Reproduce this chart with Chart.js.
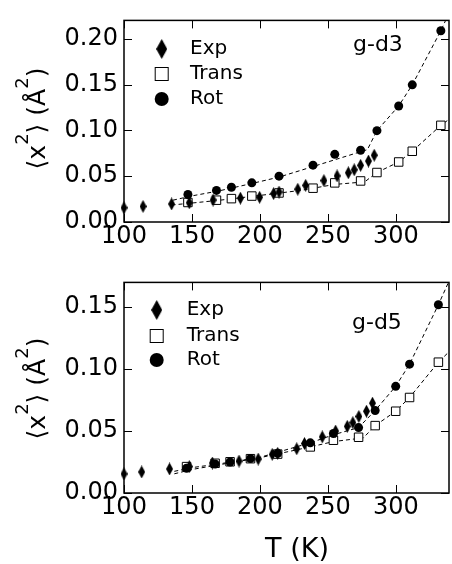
<!DOCTYPE html>
<html>
<head>
<meta charset="utf-8">
<script src="https://cdn.jsdelivr.net/npm/chart.js@4.4.1/dist/chart.umd.min.js"></script>
<style>
  html, body { margin: 0; padding: 0; background: #fff; }
  #wrap { position: relative; width: 452px; height: 564px; overflow: hidden; }
  canvas { position: absolute; left: 0; }
</style>
</head>
<body>
<div id="wrap">
  <canvas id="topChart" width="456" height="262" style="top:0"></canvas>
  <canvas id="botChart" width="456" height="302" style="top:262px"></canvas>
</div>
<script>
// g-d3 panel
const expT3 = [100, 114, 135, 148, 165.5, 185.6, 199.7, 210, 214, 227.8, 233.6, 247, 256.7, 265, 269.3, 274, 279.8, 284];
const expV3 = [0.0155, 0.017, 0.0197, 0.021, 0.024, 0.026, 0.027, 0.031, 0.0327, 0.0358, 0.040, 0.0452, 0.0503, 0.0537, 0.057, 0.0618, 0.0665, 0.0729];
const simT3 = [147, 168, 179, 194, 214, 239, 255, 274, 286, 302, 312, 333];
const transV3 = [0.0213, 0.0238, 0.0255, 0.0283, 0.0317, 0.0369, 0.0427, 0.0448, 0.054, 0.0655, 0.0772, 0.1055];
const rotV3 = [0.030, 0.0345, 0.0379, 0.0427, 0.050, 0.062, 0.0738, 0.0783, 0.0997, 0.1266, 0.1497, 0.2087];
const transFitT3 = [135, 150, 170, 200, 230, 255, 277, 286, 302, 312, 333, 339];
const transFitV3 = [0.0185, 0.0207, 0.0237, 0.029, 0.0345, 0.041, 0.0438, 0.054, 0.0655, 0.0772, 0.1055, 0.112];
const rotFitT3 = [136, 150, 170, 194, 214, 239, 279, 286, 302, 312, 333, 339];
const rotFitV3 = [0.0238, 0.0285, 0.034, 0.042, 0.049, 0.0605, 0.079, 0.0997, 0.1266, 0.1497, 0.2087, 0.228];

// g-d5 panel
const expT5 = [100, 113, 133.5, 148, 165, 184.6, 198.7, 209, 213, 227, 232.7, 245.8, 255.6, 264.2, 268.3, 272.7, 278.3, 282.7];
const expV5 = [0.0154, 0.017, 0.0194, 0.0213, 0.0242, 0.0258, 0.0274, 0.0312, 0.032, 0.0357, 0.040, 0.0453, 0.050, 0.0538, 0.0568, 0.0618, 0.066, 0.0725];
const simT5 = [146, 167, 178, 193, 213, 237, 254, 272.5, 284.7, 299.8, 310, 331.2];
const transV5 = [0.0213, 0.024, 0.0252, 0.0277, 0.0314, 0.0372, 0.0426, 0.045, 0.0544, 0.066, 0.0771, 0.1056];
const rotV5 = [0.020, 0.0234, 0.025, 0.0278, 0.032, 0.0405, 0.048, 0.0528, 0.0666, 0.0861, 0.104, 0.152];
const transFitT5 = [137, 150, 170, 200, 237, 254, 276, 284.7, 299.8, 310, 331.2, 339];
const transFitV5 = [0.0155, 0.019, 0.0228, 0.0285, 0.0372, 0.0415, 0.0445, 0.0544, 0.066, 0.0771, 0.1056, 0.114];
const rotFitT5 = [137, 150, 170, 200, 237, 254, 272.5, 284.7, 299.8, 310, 331.2, 339];
const rotFitV5 = [0.0175, 0.0205, 0.0235, 0.0288, 0.0405, 0.047, 0.0528, 0.0666, 0.0861, 0.104, 0.152, 0.171];

// axis ranges and labels
const xMin = 100, xMax = 339, xStep = 50;
const yMaxTop = 0.22, yMaxBot = 0.17, yStep = 0.05;
const seriesNames = ['Exp', 'Trans', 'Rot'];
const panelNames = ['g-d3', 'g-d5'];
const xTitle = 'T (K)';

const FONT = '"DejaVu Sans", sans-serif';
Chart.defaults.font.family = FONT;
Chart.defaults.color = '#000';

// tall filled diamond used as a point style
function makeDiamond(w, h) {
    const c = document.createElement('canvas');
    c.width = w;
    c.height = h;
    const g = c.getContext('2d');
    g.beginPath();
    g.moveTo(w / 2, 0);
    g.lineTo(w, h / 2);
    g.lineTo(w / 2, h);
    g.lineTo(0, h / 2);
    g.closePath();
    g.fillStyle = '#000';
    g.fill();
    return c;
}
const diamond = makeDiamond(7, 13);
const legendDiamond = makeDiamond(11, 20);

function pts(xs, ys) {
    return xs.map((x, i) => ({ x: x, y: ys[i] }));
}

function buildDatasets(expT, expV, simT, transV, rotV, tfT, tfV, rfT, rfV) {
    const fit = (data, order) => ({
        data: data, showLine: true, pointRadius: 0, borderColor: '#000',
        borderWidth: 1, borderDash: [4, 3], order: order
    });
    return [
        { label: seriesNames[0], data: pts(expT, expV), pointStyle: diamond, pointRadius: 6,
          backgroundColor: '#000', borderColor: '#000', order: 0, clip: false },
        { label: seriesNames[2], data: pts(simT, rotV), pointStyle: 'circle', pointRadius: 4.5,
          backgroundColor: '#000', borderColor: '#000', borderWidth: 0, order: 1, clip: false },
        { label: seriesNames[1], data: pts(simT, transV), pointStyle: 'rect', pointRadius: 6,
          backgroundColor: '#fff', borderColor: '#000', borderWidth: 1, order: 2, clip: false },
        fit(pts(tfT, tfV), 3),
        fit(pts(rfT, rfV), 4)
    ];
}

// frame with inward ticks on all four sides
const framePlugin = {
    id: 'frame',
    afterDatasetsDraw(chart) {
        const { ctx, chartArea: a } = chart;
        const x = chart.scales.x, y = chart.scales.y;
        ctx.save();
        ctx.strokeStyle = '#000';
        ctx.lineWidth = 1;
        ctx.beginPath();
        x.ticks.forEach(t => {
            const px = Math.round(x.getPixelForValue(t.value)) + 0.5;
            ctx.moveTo(px, a.bottom); ctx.lineTo(px, a.bottom - 8);
            ctx.moveTo(px, a.top); ctx.lineTo(px, a.top + 8);
        });
        y.ticks.forEach(t => {
            const py = Math.round(y.getPixelForValue(t.value)) + 0.5;
            ctx.moveTo(a.left, py); ctx.lineTo(a.left + 8, py);
            ctx.moveTo(a.right, py); ctx.lineTo(a.right - 8, py);
        });
        ctx.stroke();
        ctx.lineWidth = 1.5;
        ctx.strokeRect(a.left, a.top, a.right - a.left, a.bottom - a.top);
        ctx.restore();
    }
};

// in-plot legend, panel name and axis titles
const notesPlugin = {
    id: 'notes',
    afterDraw(chart, args, opts) {
        const ctx = chart.ctx;
        ctx.save();
        ctx.fillStyle = '#000';
        ctx.strokeStyle = '#000';
        // legend markers
        const mx = opts.markerX, ys = opts.rowY;
        ctx.drawImage(legendDiamond, mx - legendDiamond.width / 2, ys[0] - legendDiamond.height / 2);
        ctx.lineWidth = 1;
        ctx.strokeRect(mx - 6.5, ys[1] - 6.5, 13, 13);
        ctx.beginPath();
        ctx.arc(mx, ys[2], 7, 0, Math.PI * 2);
        ctx.fill();
        // legend texts
        ctx.font = '20px ' + FONT;
        ctx.textBaseline = 'middle';
        ctx.textAlign = 'left';
        [seriesNames[0], seriesNames[1], seriesNames[2]].forEach((s, i) => ctx.fillText(s, opts.textX, ys[i]));
        // panel name
        ctx.font = '22px ' + FONT;
        ctx.fillText(opts.name, opts.nameX, opts.nameY);
        // y title with superscripts
        const parts = [['\u27E8x', 0], ['2', 1], ['\u27E9 (\u00C5', 0], ['2', 1], [')', 0]];
        const mainF = '25px ' + FONT, supF = '18px ' + FONT;
        let total = 0;
        parts.forEach(p => { ctx.font = p[1] ? supF : mainF; total += ctx.measureText(p[0]).width; });
        ctx.translate(45, opts.titleY);
        ctx.rotate(-Math.PI / 2);
        ctx.textBaseline = 'alphabetic';
        let pos = -total / 2;
        parts.forEach(p => {
            ctx.font = p[1] ? supF : mainF;
            ctx.fillText(p[0], pos, p[1] ? -17 : 0);
            pos += ctx.measureText(p[0]).width;
        });
        ctx.restore();
        if (opts.xTitle) {
            ctx.save();
            ctx.font = '27px ' + FONT;
            ctx.textAlign = 'center';
            ctx.textBaseline = 'alphabetic';
            ctx.fillStyle = '#000';
            ctx.fillText(opts.xTitle, 297, opts.xTitleY);
            ctx.restore();
        }
    }
};

function makeChart(id, datasets, yMax, padTop, xHeight, notes) {
    return new Chart(document.getElementById(id), {
        type: 'scatter',
        data: { datasets: datasets },
        options: {
            responsive: false,
            animation: false,
            devicePixelRatio: 1,
            layout: { padding: { top: padTop, right: 3, left: 0, bottom: 0 } },
            scales: {
                x: {
                    type: 'linear', min: xMin, max: xMax,
                    grid: { display: false, drawTicks: false },
                    border: { display: false },
                    ticks: { stepSize: xStep, includeBounds: false, padding: 0,
                             font: { size: 24 }, color: '#000', maxRotation: 0,
                             callback: v => String(v) },
                    afterFit: s => { s.height = xHeight; }
                },
                y: {
                    min: 0, max: yMax,
                    grid: { display: false, drawTicks: false },
                    border: { display: false },
                    ticks: { stepSize: yStep, includeBounds: false, padding: 6,
                             font: { size: 24 }, color: '#000',
                             callback: v => v.toFixed(2) },
                    afterFit: s => { s.width = 124; }
                }
            },
            plugins: {
                legend: { display: false },
                tooltip: { enabled: false },
                notes: notes
            }
        },
        plugins: [framePlugin, notesPlugin]
    });
}

makeChart('topChart',
    buildDatasets(expT3, expV3, simT3, transV3, rotV3, transFitT3, transFitV3, rotFitT3, rotFitV3),
    yMaxTop, 9, 40,
    { markerX: 161.7, rowY: [49, 74, 99], textX: 190, name: panelNames[0], nameX: 353, nameY: 45, titleY: 118.5 });

makeChart('botChart',
    buildDatasets(expT5, expV5, simT5, transV5, rotV5, transFitT5, transFitV5, rotFitT5, rotFitV5),
    yMaxBot, 19, 71,
    { markerX: 156.7, rowY: [48, 74, 98], textX: 186.7, name: panelNames[1], nameX: 352, nameY: 61,
      titleY: 126.5, xTitle: xTitle, xTitleY: 294.5 });
</script>
</body>
</html>
